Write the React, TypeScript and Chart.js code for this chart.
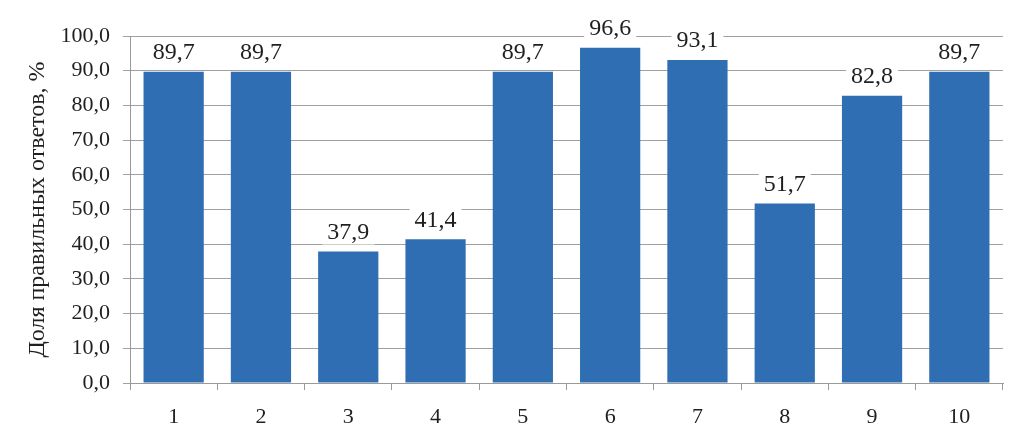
import React, { useEffect, useRef } from "react";
import { Chart, registerables } from "chart.js";

Chart.register(...registerables);

const categories = ["1", "2", "3", "4", "5", "6", "7", "8", "9", "10"];
const values = [89.7, 89.7, 37.9, 41.4, 89.7, 96.6, 93.1, 51.7, 82.8, 89.7];
const yTitle = "Доля правильных ответов, %";

const fmt = (v: number) => v.toFixed(1).replace(".", ",");

const labelPlugin = {
  id: "barLabels",
  afterDatasetsDraw(chart: any) {
    const ctx = chart.ctx;
    const meta = chart.getDatasetMeta(0);
    ctx.save();
    ctx.font = "24px 'Liberation Serif'";
    ctx.textAlign = "center";
    ctx.textBaseline = "middle";
    meta.data.forEach((bar: any, i: number) => {
      const t = fmt(values[i]);
      const w = ctx.measureText(t).width;
      const cy = bar.y - 20;
      ctx.fillStyle = "#ffffff";
      ctx.fillRect(bar.x - w / 2 - 5, cy - 13, w + 10, 26);
      ctx.fillStyle = "#1f1f1f";
      ctx.fillText(t, bar.x, cy + 1);
    });
    ctx.restore();
  },
};

export default function App() {
  const ref = useRef<HTMLCanvasElement>(null);
  useEffect(() => {
    if (!ref.current) return;
    const chart = new Chart(ref.current, {
      type: "bar",
      data: {
        labels: categories,
        datasets: [
          {
            data: values,
            backgroundColor: "#2F6EB2",
            barPercentage: 0.69,
            categoryPercentage: 1,
          },
        ],
      },
      options: {
        animation: false,
        responsive: false,
        maintainAspectRatio: false,
        layout: { padding: { top: 36, right: 19, left: 0, bottom: 0 } },
        plugins: { legend: { display: false }, tooltip: { enabled: false } },
        scales: {
          x: {
            grid: {
              display: true,
              drawOnChartArea: false,
              drawTicks: true,
              tickLength: 7,
              color: "#9a9a9a",
            },
            border: { color: "#9a9a9a" },
            ticks: {
              color: "#1f1f1f",
              font: { family: "'Liberation Serif'", size: 22 },
              padding: 14,
            },
            afterFit(scale: any) {
              scale.height = 45;
            },
          },
          y: {
            min: 0,
            max: 100,
            grid: { color: "#a0a0a0", tickLength: 7 },
            border: { color: "#9a9a9a" },
            ticks: {
              stepSize: 10,
              color: "#1f1f1f",
              padding: 13,
              font: { family: "'Liberation Serif'", size: 22 },
              callback: (v: any) => fmt(Number(v)),
            },
            title: {
              display: true,
              text: yTitle,
              color: "#1f1f1f",
              font: { family: "'Liberation Serif'", size: 24 },
              padding: { top: 23, bottom: 0 },
            },
            afterFit(scale: any) {
              scale.width = 130;
            },
          },
        },
      },
      plugins: [labelPlugin],
    });
    return () => chart.destroy();
  }, []);
  return (
    <div style={{ position: "fixed", left: 0, top: 0, width: 1022, height: 428, background: "#fff" }}>
      <canvas ref={ref} width={1022} height={428} style={{ width: 1022, height: 428 }} />
    </div>
  );
}
